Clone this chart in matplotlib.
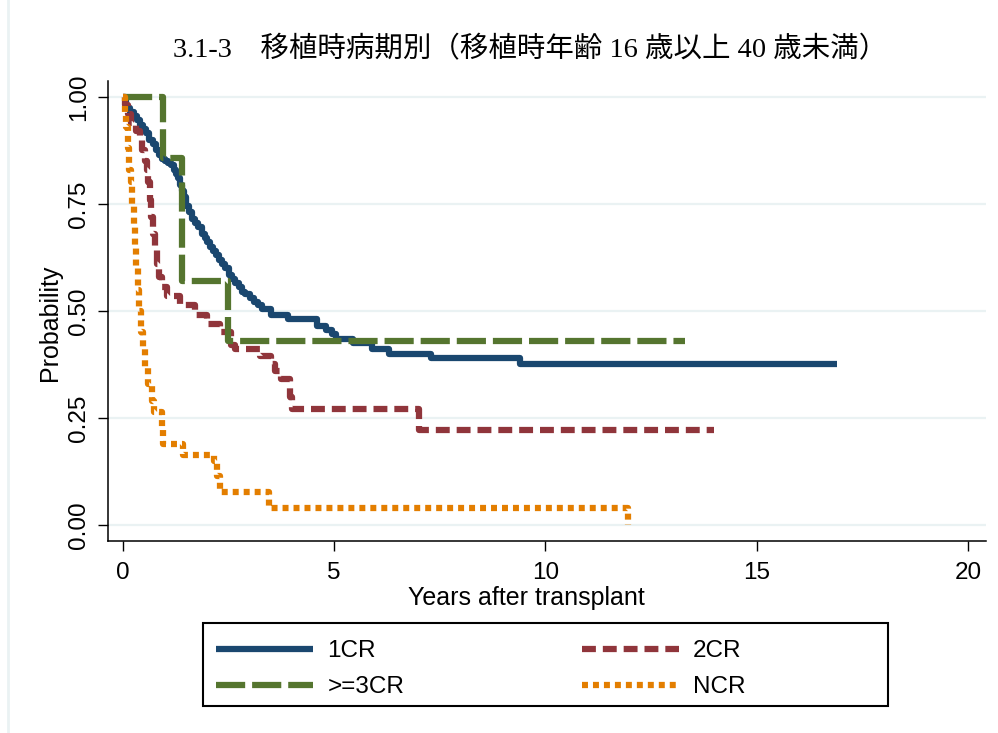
import matplotlib
matplotlib.use("Agg")
import matplotlib.pyplot as plt
from matplotlib.patches import Rectangle
from matplotlib.lines import Line2D

plt.rcParams['font.family'] = ['Liberation Sans', 'DejaVu Sans']
plt.rcParams['lines.scale_dashes'] = False

# Kaplan-Meier steps (years, survival probability)
cr1_t = [0, 0.08, 0.16, 0.25, 0.33, 0.4, 0.47, 0.55, 0.62, 0.7, 0.78, 0.86, 0.93, 1.0,
         1.07, 1.14, 1.2, 1.25, 1.3, 1.35, 1.4, 1.45, 1.5, 1.56, 1.63, 1.7, 1.78, 1.86,
         1.93, 2.0, 2.07, 2.14, 2.21, 2.28, 2.35, 2.42, 2.5, 2.58, 2.66, 2.74, 2.82, 2.9,
         3.0, 3.1, 3.2, 3.3, 3.5, 3.9, 4.6, 4.8, 4.95, 5.05, 5.45, 5.9, 6.3, 7.3, 9.4, 16.9]
cr1_s = [1.0, 0.975, 0.965, 0.955, 0.945, 0.935, 0.925, 0.915, 0.90, 0.89, 0.875, 0.865, 0.855, 0.85,
         0.845, 0.84, 0.83, 0.82, 0.81, 0.795, 0.78, 0.765, 0.745, 0.73, 0.715, 0.705, 0.695, 0.68,
         0.67, 0.66, 0.65, 0.64, 0.63, 0.62, 0.61, 0.60, 0.585, 0.575, 0.565, 0.555, 0.545, 0.54,
         0.53, 0.52, 0.515, 0.505, 0.49, 0.48, 0.465, 0.455, 0.445, 0.435, 0.425, 0.41, 0.40, 0.39,
         0.375, 0.375]

cr2_t = [0, 0.05, 0.12, 0.2, 0.3, 0.4, 0.45, 0.52, 0.57, 0.6, 0.63, 0.66, 0.7, 0.75, 0.8,
         0.86, 0.92, 1.05, 1.35, 1.7, 2.0, 2.3, 2.55, 2.65, 3.25, 3.5, 3.6, 3.75, 3.95,
         4.0, 7.0, 14.0]
cr2_s = [1.0, 0.98, 0.96, 0.94, 0.92, 0.90, 0.875, 0.85, 0.83, 0.80, 0.76, 0.72, 0.68, 0.645, 0.61,
         0.58, 0.555, 0.535, 0.515, 0.49, 0.47, 0.45, 0.42, 0.41, 0.395, 0.375, 0.36, 0.34, 0.30,
         0.27, 0.222, 0.222]

cr3_t = [0, 0.95, 1.4, 2.48, 13.3]
cr3_s = [1.0, 0.857, 0.571, 0.429, 0.429]

ncr_t = [0, 0.04, 0.08, 0.11, 0.15, 0.19, 0.22, 0.26, 0.29, 0.32, 0.35, 0.38, 0.42, 0.47,
         0.53, 0.6, 0.68, 0.74, 0.92, 0.95, 1.42, 2.15, 2.22, 2.3, 3.45, 11.95]
ncr_s = [1.0, 0.96, 0.93, 0.88, 0.83, 0.80, 0.75, 0.70, 0.65, 0.60, 0.55, 0.50, 0.45, 0.41,
         0.37, 0.33, 0.29, 0.265, 0.23, 0.19, 0.163, 0.15, 0.115, 0.077, 0.04, 0.0]

xticks = [0, 5, 10, 15, 20]
yticks = [0, 0.25, 0.5, 0.75, 1.0]
ylabels = ['0.00', '0.25', '0.50', '0.75', '1.00']
title = '3.1-3\u3000移植時病期別（移植時年齢 16 歳以上 40 歳未満）'

fig = plt.figure(figsize=(9.98, 7.33), dpi=100)
ax = fig.add_axes([0.1082, 0.2619, 0.8798, 0.6276])

l1, = ax.plot(cr1_t, cr1_s, drawstyle='steps-post', color='#1a476f', lw=4.5,
              solid_joinstyle='round', solid_capstyle='butt', label='1CR')
l2, = ax.plot(cr2_t, cr2_s, drawstyle='steps-post', color='#90353b', lw=4.5,
              dashes=[10, 5], dash_capstyle='butt', label='2CR')
l3, = ax.plot(cr3_t, cr3_s, drawstyle='steps-post', color='#55752f', lw=4.5,
              dashes=[21, 5], dash_capstyle='butt', label='>=3CR')
l4, = ax.plot(ncr_t, ncr_s, drawstyle='steps-post', color='#e37e00', lw=4.5,
              dashes=[4.3, 3.6], dash_capstyle='butt', label='NCR')

ax.set_xlim(-0.355, 20.43)
ax.set_ylim(-0.0374, 1.037)
ax.set_xticks(xticks)
ax.set_yticks(yticks)
ax.set_yticklabels(ylabels)
ax.grid(axis='y', color='#eaf2f3', lw=1.6)
ax.set_axisbelow(True)
for s in ['top', 'right']:
    ax.spines[s].set_visible(False)
for s in ['left', 'bottom']:
    ax.spines[s].set_linewidth(1.1)
ax.tick_params(length=7, width=1.0, labelsize=17.5)
ax.tick_params(axis='x', pad=8)
ax.tick_params(axis='y', pad=6, labelrotation=90)
for lab in ax.get_yticklabels():
    lab.set_va('center')

ax.set_xlabel('Years after transplant', fontsize=18)
ax.xaxis.set_label_coords(0.477, -0.097)
ax.set_ylabel('Probability', fontsize=18)
ax.yaxis.set_label_coords(-0.052, 0.475)

fig.text(0.531, 1 - 50 / 733, title, ha='center', va='center', fontsize=20.5,
         family=['Liberation Serif', 'Noto Sans CJK JP'])

# legend (frame drawn separately so it spans the Stata-style box)
fig.legend([l1, l3, l2, l4], ['1CR', '>=3CR', '2CR', 'NCR'], ncol=2, frameon=False,
           loc='upper left', bbox_to_anchor=(216 / 998, 1 - 640 / 733), fontsize=17.5,
           borderpad=0, borderaxespad=0, handlelength=4.0, handletextpad=0.58,
           columnspacing=7.3, labelspacing=0.58)
fig.add_artist(Rectangle((203 / 998, 1 - 706 / 733), 685 / 998, 83 / 733, fill=False,
                         lw=1.5, ec='black', transform=fig.transFigure))
fig.add_artist(Line2D([8 / 998, 8 / 998], [0, 1], color='#eaf2f3', lw=2,
                      transform=fig.transFigure))

fig.savefig('out.png', dpi=100)
